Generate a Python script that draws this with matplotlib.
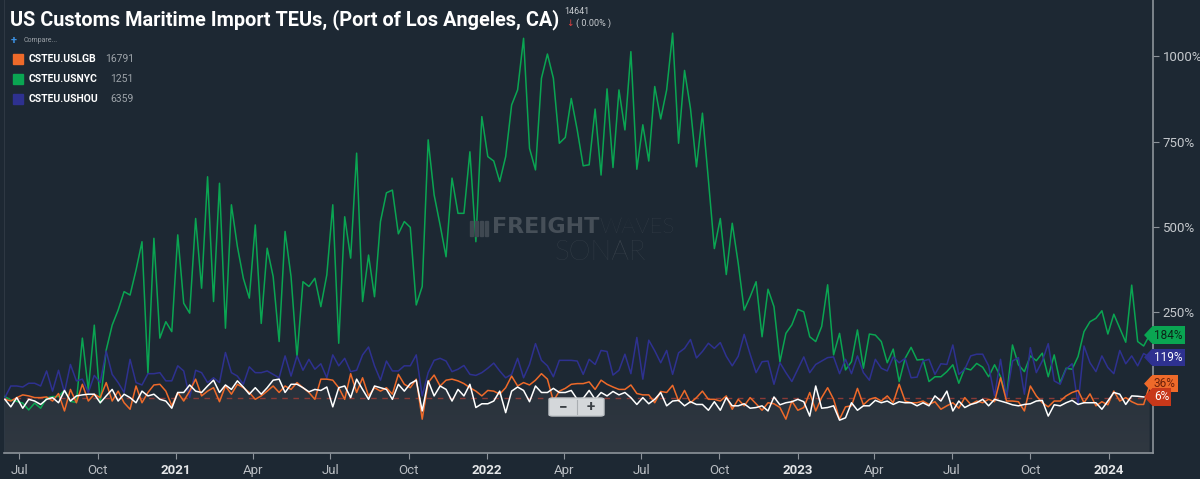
import numpy as np
import pandas as pd
import matplotlib
matplotlib.use("Agg")
import matplotlib.pyplot as plt
import matplotlib.dates as mdates
from matplotlib.patches import Polygon, FancyBboxPatch
from matplotlib.transforms import blended_transform_factory
from matplotlib.ticker import FuncFormatter

plt.rcParams['font.family'] = ['Roboto', 'DejaVu Sans']

# weekly points, % change vs first week
start = "2020-06-14"
n_weeks = 193

usnyc = [4, -6, -10, -15, -35, -15, -30, 0, 4, 4, 23, -10, -13, 175, 23, 213, -15, 140, 213, 257,
         311, 301, 374, 457, 72, 467, 175, 223, 194, 477, 277, 248, 525, 321, 647, 282, 628, 204, 565, 443,
         350, 292, 506, 218, 438, 355, 165, 487, 355,
         120, 340, 326, 350, 267, 360, 565, 160, 530, 409, 716, 282, 418, 296, 516, 600, 608, 480, 516, 499,
         272, 326, 755, 594, 506, 413, 643, 540, 540, 720, 457, 823, 706, 693, 633, 706, 857, 901, 1052, 730,
         667, 935, 1006, 935, 745, 762, 876, 784, 679, 682,
         845, 652, 904, 674, 901, 784, 1013, 669, 799, 693, 911, 816, 901, 1067, 745, 958, 846, 676, 833, 638,
         437, 525, 361, 511, 394, 257, 296, 340, 179, 318, 267, 106, 189, 214, 259, 252, 179, 165, 209, 331,
         126, 189, 82, 106, 199, 87, 187, 184,
         165, 103, 143, 48, 116, 148, 111, 113, 48, 62, 62, 77, 97, 43, 87, 82, 101, 90, 62, 97,
         62, 4, 155, 97, 77, 123, 109, 131, 62, 126, 45, 87, 84, 121, 194, 223, 233, 255, 187, 245,
         204, 163, 330, 165, 152, 184]

ushou = [1, 35, 35, 32, 43, 43, 35, 79, 20, 81, 16, 98, 50, 55, 16, 66, 45, 137, 69, 45,
         16, 113, 45, 38, 71, 71, 74, 50, 50, 94, 79, 1, 81, 74, 45, 59, 45, 133, 74, 64,
         40, 91, 74, 74, 79, 69, 59, 123, 64,
         123, 81, 113, 84, 100, 59, 126, 94, 116, 77, 81, 126, 149, 94, 52, 108, 79, 79, 94, 94,
         126, 6, 74, 110, 116, 108, 77, 84, 95, 69, 66, 74, 87, 102, 79, 59, 69, 116, 59, 98,
         159, 110, 94, 62, 110, 110, 110, 108, 69, 113,
         98, 139, 136, 67, 81, 128, 71, 177, 55, 169, 138, 103, 139, 69, 132, 145, 171, 117, 136, 160,
         145, 162, 122, 94, 122, 186, 128, 74, 106, 108, 40, 103, 74, 48, 84, 120, 74, 98, 108, 118,
         120, 71, 113, 71, 123, 74, 52, 113,
         87, 79, 120, 103, 116, 59, 61, 108, 113, 69, 100, 98, 155, 69, 84, 123, 128, 128, 94, 6,
         113, 1, 108, 118, 11, 147, 74, 108, 159, 50, 40, 84, 100, -19, 152, 103, 77, 123, 89, 71,
         139, 100, 123, 94, 130, 119]

uslgb = [-4, -9, 1, 9, 6, 1, 1, 3, -9, 13, -38, 25, -14, 40, -9, 11, 1, 45, -9, 20,
         -14, -33, 35, -14, 16, 38, 40, 20, -23, 16, -9, 20, 55, 6, 20, 30, -11, 35, 11, 40,
         30, 16, -4, 6, 20, 35, 16, 35, 25,
         45, 30, 16, -4, 55, 55, 52, 30, -4, 71, 16, 59, 6, 30, 20, 30, 11, 69, 40, 30,
         55, -62, 45, 67, 35, 52, 55, 50, 42, 30, 20, 6, 22, 20, 11, 30, 64, 35, 45, 38,
         52, 71, 55, -9, 20, 28, 40, 42, 42, 47,
         25, 52, 40, 32, 25, 25, 38, 13, 9, 9, -14, 19, 16, 37, -9, 22, -14, 1, 20, -4,
         -4, -9, 6, -33, -4, -23, 1, -17, -36, -14, -17, -28, -62, -9, -36, -28, 16, -38, 1, 30,
         -4, -62, -26, -23, 28, -20, -4, 1,
         -9, 6, -14, 40, -9, -14, -14, -9, -19, -11, -33, -23, -14, -30, 1, -19, -9, -14, -4, -11,
         59, -9, -9, -11, -38, 35, 6, -14, -26, -9, -9, 6, 16, 22, -14, 12, -23, -11, -20, 20,
         -9, 1, -11, -19, -19, 36]

uslax = [-4, -26, 1, -30, -4, -9, -19, -4, 1, -14, 22, -9, 6, 9, 11, 11, -14, 6, 25, -9,
         11, 1, -14, 20, 6, 11, -4, -9, -30, 16, 16, 38, 20, 16, 35, 52, 16, 38, 25, 50,
         32, 11, 30, 11, 30, 52, 55, 16, 40,
         40, 30, 18, 25, 22, 32, -26, 30, 35, 1, 55, 25, -4, 35, 30, 25, -4, 40, 20, 42,
         52, -38, 50, 6, 35, 25, -9, 25, 6, 40, -28, -17, -17, -9, 20, -43, 20, 32, 22, -11,
         35, 16, 16, 28, 16, 16, 22, -4, -1, 22,
         -4, 16, 6, 19, 9, 16, 1, -19, 1, -17, -4, 16, -23, -9, -7, -23, -11, -19, -19, -36,
         -11, -36, 1, -23, -23, -17, -30, -28, -23, -38, 3, -20, -14, -11, -4, -11, -53, 35, -30, -28,
         -23, -65, -58, -14, -36, -23, -23, -7,
         -14, -9, -19, -11, -14, -14, -23, -14, -23, 6, -9, 20, -38, -9, -28, -19, -14, -4, -23, -4,
         -9, -14, -20, -23, -19, -17, -9, -7, -53, -20, -23, -14, -7, -19, -14, -14, -14, -33, -9, 16,
         11, -19, 6, 5, 3, 6]

names = ["CSTEU.USLGB", "CSTEU.USNYC", "CSTEU.USHOU"]
last_vals = ["16791", "1251", "6359"]
yticks = [250, 500, 750, 1000]

dates = pd.date_range(start, periods=n_weeks, freq="W-SUN")

BG = "#1d2833"
GREEN = "#0aa552"
BLUE = "#2e3190"
ORANGE = "#ee6a2a"
RED = "#c8381a"
W, H = 1200, 479


def fx(px):
    return px / W


def fy(py):
    return 1 - py / H


fig = plt.figure(figsize=(12, 4.79), dpi=100, facecolor=BG)
ax = fig.add_axes([fx(4), 1 - 453 / H, (1153 - 4) / W, 453 / H])
ax.set_facecolor(BG)
ymin, ymax = -161, 1164
ax.set_ylim(ymin, ymax)
ax.set_xlim(pd.Timestamp("2020-06-13"), pd.Timestamp("2024-02-22"))
px_per_unit = 453 / (ymax - ymin)

# shaded area under the main series with a soft gradient
fill = ax.fill_between(dates, uslax, ymin, color="none", lw=0)
grad = np.linspace(0, 1, 256).reshape(-1, 1)
cmap = matplotlib.colors.LinearSegmentedColormap.from_list("g", ["#303841", "#28313b"])
im = ax.imshow(grad, aspect="auto", cmap=cmap, origin="lower",
               extent=[mdates.date2num(dates[0]), mdates.date2num(dates[-1]), ymin, 60], zorder=1)
im.set_clip_path(fill.get_paths()[0], transform=ax.transData)

ax.axhline(0, color="#8a3a36", lw=1, ls=(0, (4, 4)), zorder=2)

ax.plot(dates, usnyc, color=GREEN, lw=1.1, zorder=3)
ax.plot(dates, ushou, color=BLUE, lw=1.1, zorder=4)
ax.plot(dates, uslgb, color=ORANGE, lw=1.1, zorder=5)
ax.plot(dates, uslax, color="white", lw=1.1, zorder=6)

# axes styling
ax.spines["top"].set_visible(False)
ax.spines["left"].set_color("#2e3843")
ax.spines["bottom"].set_color("#8c939a")
ax.spines["right"].set_color("#8c939a")
ax.spines["bottom"].set_linewidth(1.2)
ax.spines["right"].set_linewidth(1.2)

ax.yaxis.tick_right()
ax.set_yticks(yticks)
ax.set_yticklabels([f"{v}%" for v in yticks])
ax.tick_params(axis="y", colors="#8c939a", labelcolor="#c5c9cd", labelsize=9.5, length=4, pad=3)


def date_label(x, pos):
    d = mdates.num2date(x)
    return str(d.year) if d.month == 1 else d.strftime("%b")


ax.xaxis.set_major_locator(mdates.MonthLocator(bymonth=[1, 4, 7, 10]))
ax.xaxis.set_major_formatter(FuncFormatter(date_label))
ax.tick_params(axis="x", colors="#8c939a", labelcolor="#b9bdc2", labelsize=9.5, length=4, pad=4)
fig.canvas.draw()
for lab in ax.get_xticklabels():
    if lab.get_text().isdigit():
        lab.set_fontweight("bold")
        lab.set_color("#e4e6e8")

# end-of-line tags (small vertical nudge in pixels so the two low tags stack)
tr = blended_transform_factory(fig.transFigure, ax.transData)
half = 7.5 / px_per_unit
tags = [(usnyc[-1], 0, f"{usnyc[-1]}%", GREEN, "#0c2418"),
        (ushou[-1], 0, f"{ushou[-1]}%", BLUE, "white"),
        (uslgb[-1], 2, f"{uslgb[-1]}%", ORANGE, "#6a200a"),
        (uslax[-1], -1, f"{uslax[-1]}%", RED, "white")]
for i, (v, nudge, txt, c, tc) in enumerate(tags):
    yv = v + nudge / px_per_unit
    tri = Polygon([(fx(1145), yv), (fx(1152), yv + half), (fx(1152), yv - half)],
                  closed=True, transform=tr, color=c, clip_on=False, zorder=10 + i)
    fig.add_artist(tri)
    fig.text(fx(1154), yv, txt, transform=tr, ha="left", va="center", fontsize=8.5,
             color=tc, zorder=10 + i,
             bbox=dict(boxstyle="square,pad=0.18", fc=c, ec="none"))

# zoom buttons
btn = FancyBboxPatch((fx(549), fy(416)), fx(55), 18 / H, boxstyle="round,pad=0,rounding_size=0.003",
                     transform=fig.transFigure, fc="#d4d7da", ec="#bfc3c7", zorder=20)
fig.add_artist(btn)
fig.add_artist(plt.Line2D([fx(577), fx(577)], [fy(414), fy(400)], transform=fig.transFigure,
                          color="#a9adb1", lw=0.8, zorder=21))
fig.text(fx(563), fy(407), "\u2212", ha="center", va="center", fontsize=11, color="#3a3f44",
         weight="bold", zorder=22)
fig.text(fx(591), fy(407), "+", ha="center", va="center", fontsize=11, color="#3a3f44",
         weight="bold", zorder=22)

# watermark
for k in range(4):
    fig.add_artist(plt.Rectangle((fx(470 + 5 * k), fy(236)), fx(3), 15 / H,
                                 transform=fig.transFigure, color="#3f4851"))
wm1 = fig.text(fx(492), fy(227), "FREIGHT", ha="left", va="center", fontsize=16, color="#464f58",
               weight="bold", family="DejaVu Sans")
fig.canvas.draw()
bb = wm1.get_window_extent()
fig.text(bb.x1 / W, fy(227), "WAVES", ha="left", va="center", fontsize=16, color="#3e4750",
         weight="light", family="Lato")
fig.text(fx(600), fy(252), "SONAR", ha="center", va="center", fontsize=20, color="#3e4750",
         weight="light", family="Lato")

# title block
fig.text(fx(10), fy(20), "US Customs Maritime Import TEUs, (Port of Los Angeles, CA)",
         ha="left", va="center", fontsize=14.3, color="white", weight="bold")
fig.text(fx(564), fy(12), "14641", ha="left", va="center", fontsize=6.5, color="#c8ccd0")
fig.text(fx(566), fy(23), "\u2193", ha="left", va="center", fontsize=6.5, color="#e04040",
         family="DejaVu Sans")
fig.text(fx(576), fy(23), "( 0.00% )", ha="left", va="center", fontsize=6.5, color="#c8ccd0")

# legend
fig.text(fx(11), fy(41), "+", ha="left", va="center", fontsize=8, color="#3b8fe0", weight="bold")
fig.text(fx(24), fy(41), "Compare...", ha="left", va="center", fontsize=5, color="#9aa0a6")
for i, (nm, val, c) in enumerate(zip(names, last_vals, [ORANGE, GREEN, BLUE])):
    y = 59 + 20 * i
    fig.add_artist(plt.Rectangle((fx(13), fy(y + 5)), fx(10), 10 / H, transform=fig.transFigure,
                                 color=c))
    fig.text(fx(29), fy(y), nm, ha="left", va="center", fontsize=7.5, color="white", weight="bold")
    fig.text(fx(134), fy(y), val, ha="right", va="center", fontsize=7.5, color="#9ea4aa")

fig.savefig("out.png", dpi=100, facecolor=BG)
